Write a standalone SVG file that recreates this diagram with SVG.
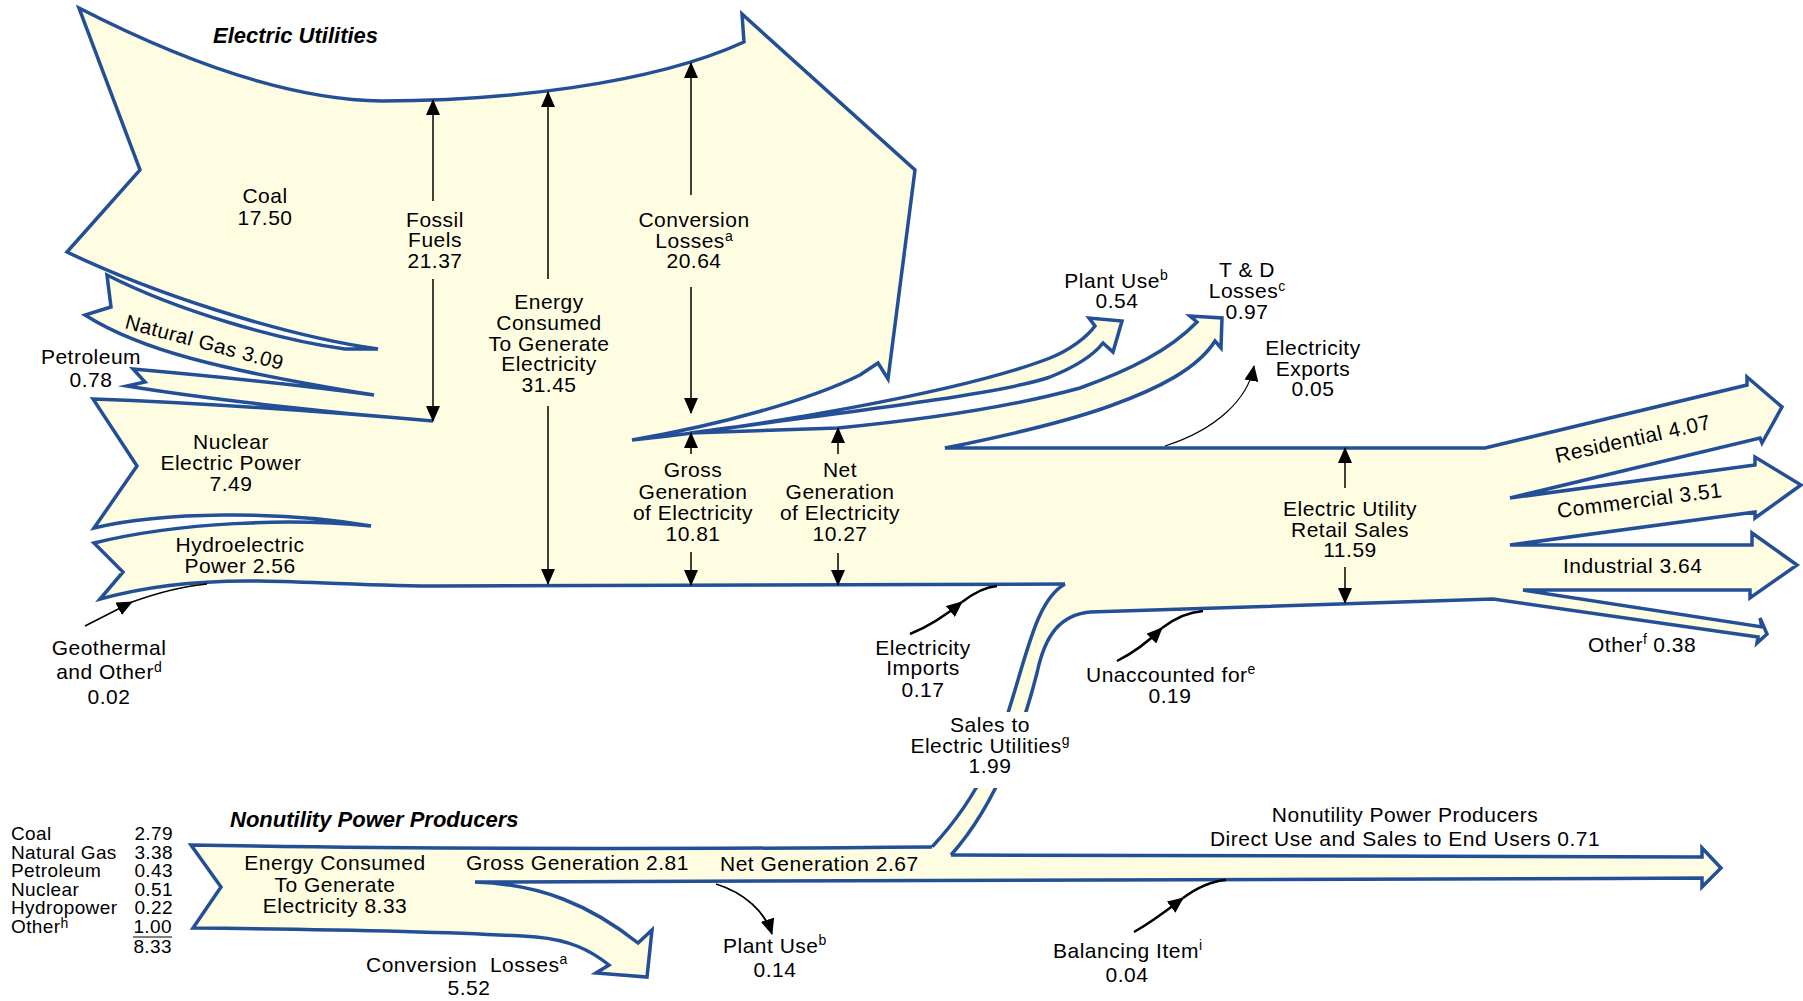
<svg xmlns="http://www.w3.org/2000/svg" width="1803" height="1001" viewBox="0 0 1803 1001">
<defs>
<style>
.fl{fill:#FFFDE1;stroke:none}
.ol{fill:none;stroke:#234F97;stroke-width:3.5;stroke-linejoin:miter;stroke-miterlimit:6}
.ar{fill:none;stroke:#000;stroke-width:1.5}
.ck{fill:none;stroke:#000;stroke-width:2.5}
.t{font-family:"Liberation Sans",Arial,sans-serif;font-size:21px;letter-spacing:0.5px;fill:#000}
.s{font-family:"Liberation Sans",Arial,sans-serif;font-size:19px;letter-spacing:0.4px;fill:#000}
.c{text-anchor:middle}
.e{text-anchor:end}
.h{font-family:"Liberation Sans",Arial,sans-serif;font-size:22px;font-weight:bold;font-style:italic;fill:#000}
.u{font-size:14px;letter-spacing:0}
</style>
<marker id="ah" viewBox="0 0 16 14" refX="15" refY="7" markerWidth="16" markerHeight="14" markerUnits="userSpaceOnUse" orient="auto"><path d="M0,0 L16,7 L0,14 Z" fill="#000"/></marker>
</defs>
<rect width="1803" height="1001" fill="#fff"/>

<g id="electric-utilities">
<path class="fl" d="M1090,612 L1493,599 L1758,637 L1757,643 L1767,634 L1760,618 L1762,627 L1523,590 L1750,590 L1750,598 L1797,565 L1752,533 L1752,545 L1510,545 L1755,512 L1755,518 L1801,485 L1755,457 L1755,465 L1510,498 L1760,438 L1762,443 L1782,407 L1747,377 L1747,385 L1485,448 L945,448 C1000,437 1060,424 1110,406 C1160,388 1198,368 1215,341 L1221,348 L1222,318 L1190,316 L1197,322 C1170,350 1130,370 1080,388 C1000,410 900,422 838,428 L690,433 C800,418 1000,395 1050,377 C1075,367 1092,357 1103,343 L1113,352 L1122,321 L1089,318 L1095,326 C1087,337 1070,350 1050,358 C960,393 750,428 632,440 C720,425 810,400 860,375 L878,363 L888,379 L915,170 L742,14 L744,42 C650,85 500,101 382,101 C300,100 200,70 79,8 L140,170 L67,252 C150,292 280,335 378,349 L345,349 C280,340 180,312 107,275 L111,307 L85,315 C140,350 220,370 374,395 C300,385 200,375 133,369 L145,382 L127,386 C200,398 320,412 433,421 C330,412 200,403 93,399 L137,466 L94,528 C160,512 280,510 371,526 C290,518 180,522 94,543 L123,572 L100,599 C150,585 200,580 260,581 C320,582 380,586 440,586 L1065,584 Z"/>
<path class="ol" d="M1090,612 L1493,599 L1758,637 L1757,643 L1767,634 L1760,618 L1762,627 L1523,590 L1750,590 L1750,598 L1797,565 L1752,533 L1752,545 L1510,545 L1755,512 L1755,518 L1801,485 L1755,457 L1755,465 L1510,498 L1760,438 L1762,443 L1782,407 L1747,377 L1747,385 L1485,448 L945,448 C1000,437 1060,424 1110,406 C1160,388 1198,368 1215,341 L1221,348 L1222,318 L1190,316 L1197,322 C1170,350 1130,370 1080,388 C1000,410 900,422 838,428 L690,433 C800,418 1000,395 1050,377 C1075,367 1092,357 1103,343 L1113,352 L1122,321 L1089,318 L1095,326 C1087,337 1070,350 1050,358 C960,393 750,428 632,440 C720,425 810,400 860,375 L878,363 L888,379 L915,170 L742,14 L744,42 C650,85 500,101 382,101 C300,100 200,70 79,8 L140,170 L67,252 C150,292 280,335 378,349 L345,349 C280,340 180,312 107,275 L111,307 L85,315 C140,350 220,370 374,395 C300,385 200,375 133,369 L145,382 L127,386 C200,398 320,412 433,421 C330,412 200,403 93,399 L137,466 L94,528 C160,512 280,510 371,526 C290,518 180,522 94,543 L123,572 L100,599 C150,585 200,580 260,581 C320,582 380,586 440,586 L1065,584"/>
</g>

<g id="sales-to-utilities">
<path class="fl" d="M1065,584 C1040,598 1030,640 1015,690 C1000,740 985,790 932,847 L951,855 C1000,800 1025,720 1037,673 C1045,635 1060,615 1090,612 Z"/>
<path class="ol" d="M1065,584 C1040,598 1030,640 1015,690 C1000,740 985,790 932,847"/>
<path class="ol" d="M1090,612 C1060,615 1045,635 1037,673 C1025,720 1000,800 951,855"/>
<rect x="962" y="712" width="76" height="76" fill="#fff"/>
</g>

<g id="nonutility">
<path class="fl" d="M191,845 C400,849 700,849 932,847 L951,855 L1702,857 L1702,848 L1721,868 L1702,887 L1702,878 C1300,880 900,884 475,882 C540,884 590,905 638,943 L652,930 L647,977 L596,973 L609,965 C590,950 570,940 536,937 C450,931 300,929 193,928 L221,887 Z"/>
<path class="ol" d="M951,855 L1702,857 L1702,848 L1721,868 L1702,887 L1702,878 C1300,880 900,884 475,882 C540,884 590,905 638,943 L652,930 L647,977 L596,973 L609,965 C590,950 570,940 536,937 C450,931 300,929 193,928 L221,887 L191,845 C400,849 700,849 932,847"/>
</g>

<g id="connectors">
<line class="ar" x1="433" y1="201" x2="433" y2="100" marker-end="url(#ah)"/>
<line class="ar" x1="433" y1="279" x2="433" y2="421" marker-end="url(#ah)"/>
<line class="ar" x1="548" y1="279" x2="548" y2="92" marker-end="url(#ah)"/>
<line class="ar" x1="548" y1="406" x2="548" y2="584" marker-end="url(#ah)"/>
<line class="ar" x1="691" y1="195" x2="691" y2="63" marker-end="url(#ah)"/>
<line class="ar" x1="691" y1="287" x2="691" y2="413" marker-end="url(#ah)"/>
<line class="ar" x1="691" y1="454" x2="691" y2="433" marker-end="url(#ah)"/>
<line class="ar" x1="691" y1="552" x2="691" y2="585" marker-end="url(#ah)"/>
<line class="ar" x1="838" y1="454" x2="838" y2="428" marker-end="url(#ah)"/>
<line class="ar" x1="838" y1="553" x2="838" y2="585" marker-end="url(#ah)"/>
<line class="ar" x1="1345" y1="488" x2="1345" y2="448" marker-end="url(#ah)"/>
<line class="ar" x1="1345" y1="567" x2="1345" y2="603" marker-end="url(#ah)"/>
<path class="ar" d="M85,626 L132,602" marker-end="url(#ah)"/>
<path class="ar" d="M132,602 C160,592 185,586 207,584"/>
<path class="ck" d="M910,634 C930,626 945,616 962,602" marker-end="url(#ah)"/>
<path class="ck" d="M962,602 C975,592 985,587 997,586"/>
<path class="ck" d="M1117,661 C1135,652 1150,640 1162,628" marker-end="url(#ah)"/>
<path class="ck" d="M1162,628 C1175,618 1190,612 1203,611"/>
<path class="ck" d="M1134,932 C1155,920 1170,908 1183,898" marker-end="url(#ah)"/>
<path class="ck" d="M1183,898 C1198,887 1212,881 1226,880"/>
<path class="ar" style="stroke-width:1.2" d="M1165,446 C1215,430 1248,400 1254,366" marker-end="url(#ah)"/>
<path class="ar" style="stroke-width:1.8" d="M716,884 C745,893 765,912 772,934" marker-end="url(#ah)"/>
</g>

<g id="labels">
<text class="h" x="213" y="43">Electric Utilities</text>
<text class="t c" x="265" y="203">Coal</text>
<text class="t c" x="265" y="225">17.50</text>
<text class="t c" x="435" y="226.5">Fossil</text>
<text class="t c" x="435" y="247">Fuels</text>
<text class="t c" x="435" y="268">21.37</text>
<text class="t c" x="549" y="309">Energy</text>
<text class="t c" x="549" y="330">Consumed</text>
<text class="t c" x="549" y="350.5">To Generate</text>
<text class="t c" x="549" y="371">Electricity</text>
<text class="t c" x="549" y="392">31.45</text>
<text class="t c" x="694" y="226.5">Conversion</text>
<text class="t c" x="694" y="247.5">Losses<tspan class="u" dy="-6.5">a</tspan></text>
<text class="t c" x="694" y="268">20.64</text>
<text class="t" style="font-size:20.5px" x="124" y="328" transform="rotate(15 124 328)">Natural Gas 3.09</text>
<text class="t c" x="91" y="364">Petroleum</text>
<text class="t c" x="91" y="387">0.78</text>
<text class="t c" x="231" y="449">Nuclear</text>
<text class="t c" x="231" y="470">Electric Power</text>
<text class="t c" x="231" y="491">7.49</text>
<text class="t c" x="240" y="552">Hydroelectric</text>
<text class="t c" x="240" y="573">Power 2.56</text>
<text class="t c" x="109" y="655">Geothermal</text>
<text class="t c" x="109" y="679">and Other<tspan class="u" dy="-7">d</tspan></text>
<text class="t c" x="109" y="704">0.02</text>
<text class="t c" x="693" y="477">Gross</text>
<text class="t c" x="693" y="499">Generation</text>
<text class="t c" x="693" y="520">of Electricity</text>
<text class="t c" x="693" y="541">10.81</text>
<text class="t c" x="840" y="477">Net</text>
<text class="t c" x="840" y="499">Generation</text>
<text class="t c" x="840" y="520">of Electricity</text>
<text class="t c" x="840" y="541">10.27</text>
<text class="t c" x="1116" y="288">Plant Use<tspan class="u" dy="-8">b</tspan></text>
<text class="t c" x="1117" y="308">0.54</text>
<text class="t c" x="1247" y="277">T &amp; D</text>
<text class="t c" x="1247" y="298">Losses<tspan class="u" dy="-7">c</tspan></text>
<text class="t c" x="1247" y="319">0.97</text>
<text class="t c" x="1313" y="355">Electricity</text>
<text class="t c" x="1313" y="376">Exports</text>
<text class="t c" x="1313" y="396">0.05</text>
<text class="t c" x="1350" y="516">Electric Utility</text>
<text class="t c" x="1350" y="537">Retail Sales</text>
<text class="t c" x="1350" y="557">11.59</text>
<text class="t" x="1557" y="463" transform="rotate(-12.5 1557 463)">Residential 4.07</text>
<text class="t" x="1558" y="518" transform="rotate(-7.3 1558 518)">Commercial 3.51</text>
<text class="t" x="1563" y="573">Industrial 3.64</text>
<text class="t" x="1588" y="652">Other<tspan class="u" dy="-8">f</tspan><tspan dy="8"> 0.38</tspan></text>
<text class="t c" x="923" y="655">Electricity</text>
<text class="t c" x="923" y="675">Imports</text>
<text class="t c" x="923" y="697">0.17</text>
<text class="t c" x="990" y="732">Sales to</text>
<text class="t c" x="990" y="753">Electric Utilities<tspan class="u" dy="-8">g</tspan></text>
<text class="t c" x="990" y="773">1.99</text>
<text class="t" x="1086" y="682">Unaccounted for<tspan class="u" dy="-8">e</tspan></text>
<text class="t c" x="1170" y="703">0.19</text>

<text class="h" x="230" y="827">Nonutility Power Producers</text>
<text class="s" x="11" y="840">Coal</text>
<text class="s e" x="173" y="840">2.79</text>
<text class="s" x="11" y="859">Natural Gas</text>
<text class="s e" x="173" y="859">3.38</text>
<text class="s" x="11" y="877">Petroleum</text>
<text class="s e" x="173" y="877">0.43</text>
<text class="s" x="11" y="896">Nuclear</text>
<text class="s e" x="173" y="896">0.51</text>
<text class="s" x="11" y="914">Hydropower</text>
<text class="s e" x="173" y="914">0.22</text>
<text class="s" x="11" y="933">Other<tspan class="u" dy="-5">h</tspan></text>
<text class="s e" x="172" y="933">1.00</text>
<line x1="133" y1="937" x2="172" y2="937" stroke="#000" stroke-width="1.2"/>
<text class="s e" x="172" y="953">8.33</text>
<text class="t c" x="335" y="870">Energy Consumed</text>
<text class="t c" x="335" y="892">To Generate</text>
<text class="t c" x="335" y="913">Electricity 8.33</text>
<text class="t" x="466" y="870">Gross Generation 2.81</text>
<text class="t" x="720" y="871">Net Generation 2.67</text>
<text class="t" x="366" y="972" xml:space="preserve">Conversion  Losses<tspan class="u" dy="-8">a</tspan></text>
<text class="t c" x="469" y="995">5.52</text>
<text class="t" x="723" y="953">Plant Use<tspan class="u" dy="-8">b</tspan></text>
<text class="t c" x="775" y="977">0.14</text>
<text class="t" x="1053" y="958">Balancing Item<tspan class="u" dy="-8">i</tspan></text>
<text class="t c" x="1127" y="982">0.04</text>
<text class="t c" x="1405" y="822">Nonutility Power Producers</text>
<text class="t c" x="1405" y="846">Direct Use and Sales to End Users 0.71</text>
</g>
</svg>
